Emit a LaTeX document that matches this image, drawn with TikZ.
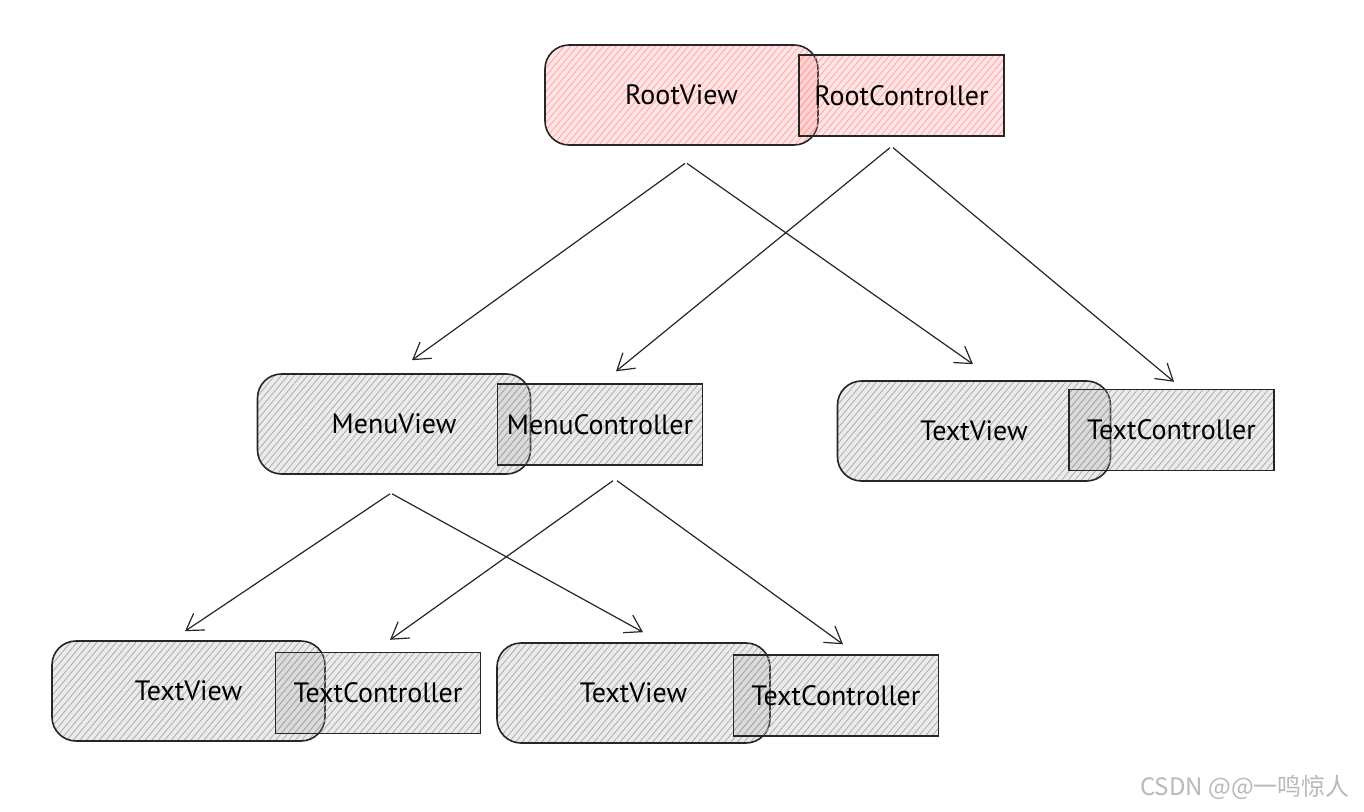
\documentclass[tikz,border=0pt]{standalone}
\usepackage{fontspec}
\setmainfont{PT Sans}
\newfontfamily\cjk{Noto Sans CJK SC}
\usetikzlibrary{arrows.meta,patterns.meta}
\tikzset{
	viewbox/.style={draw=black!85, line width=0.8pt, rounded corners=12pt,
		minimum width=136.5pt, minimum height=50pt},
	ctrlbox/.style={draw=black!85, line width=0.7pt,
		minimum width=102.5pt, minimum height=40.5pt},
	rootfill/.style={preaction={fill=red!45, fill opacity=0.22},
		pattern={Lines[angle=50,distance=2.5pt,line width=0.4pt]}, pattern color=red!35},
	grayfill/.style={preaction={fill=gray!70, fill opacity=0.22},
		pattern={Lines[angle=50,distance=2.5pt,line width=0.4pt]}, pattern color=gray!65},
	arr/.style={-{Straight Barb[length=8pt,width=10pt]}, line width=0.6pt, draw=black!85},
	label/.style={font=\fontsize{14}{16}\selectfont}
}
\begin{document}
\begin{tikzpicture}[x=0.5pt,y=-0.5pt]
		\useasboundingbox[fill=white] (0,0) rectangle (1364,812);
		% Root
		\node[viewbox, rootfill, label] (rootview) at (681.5,95) {RootView};
		\node[ctrlbox, rootfill, label] (rootctrl) at (901.5,95.5) {RootController};
		% Second row
		\node[viewbox, grayfill, label] (menuview) at (394,424) {MenuView};
		\node[ctrlbox, grayfill, label] (menuctrl) at (600,424.5) {MenuController};
		\node[viewbox, grayfill, label] (textview) at (974,431) {TextView};
		\node[ctrlbox, grayfill, label] (textctrl) at (1171.5,430) {TextController};
		% Third row
		\node[viewbox, grayfill, label] (leftview) at (188.5,691) {TextView};
		\node[ctrlbox, grayfill, label] (leftctrl) at (378,693) {TextController};
		\node[viewbox, grayfill, label] (midview) at (633.5,693) {TextView};
		\node[ctrlbox, grayfill, label] (midctrl) at (836,695.5) {TextController};
		% Arrows
		\draw[arr] ([shift={(1.75pt,-9pt)}]rootview.south) -- ([shift={(9pt,6.5pt)}]menuview.north);
		\draw[arr] ([shift={(2.75pt,-9pt)}]rootview.south) -- ([shift={(-0.5pt,8pt)}]textview.north);
		\draw[arr] ([shift={(-5.75pt,-5.5pt)}]rootctrl.south) -- ([shift={(8pt,6pt)}]menuctrl.north);
		\draw[arr] ([shift={(-4.25pt,-5.5pt)}]rootctrl.south) -- ([shift={(1.25pt,3.5pt)}]textctrl.north);
		\draw[arr] ([shift={(-2pt,-9.5pt)}]menuview.south) -- ([shift={(-1.75pt,4.5pt)}]leftview.north);
		\draw[arr] ([shift={(-1pt,-9.5pt)}]menuview.south) -- ([shift={(4.75pt,5pt)}]midview.north);
		\draw[arr] ([shift={(6.5pt,-7.5pt)}]menuctrl.south) -- ([shift={(6pt,6pt)}]leftctrl.north);
		\draw[arr] ([shift={(8.5pt,-7.5pt)}]menuctrl.south) -- ([shift={(3.5pt,5pt)}]midctrl.north);
		% Watermark
		\node[text=gray!55, font=\cjk\fontsize{12}{14}\selectfont] (mark) at (1245,787) {CSDN @@一鸣惊人};
	\end{tikzpicture}
\end{document}
